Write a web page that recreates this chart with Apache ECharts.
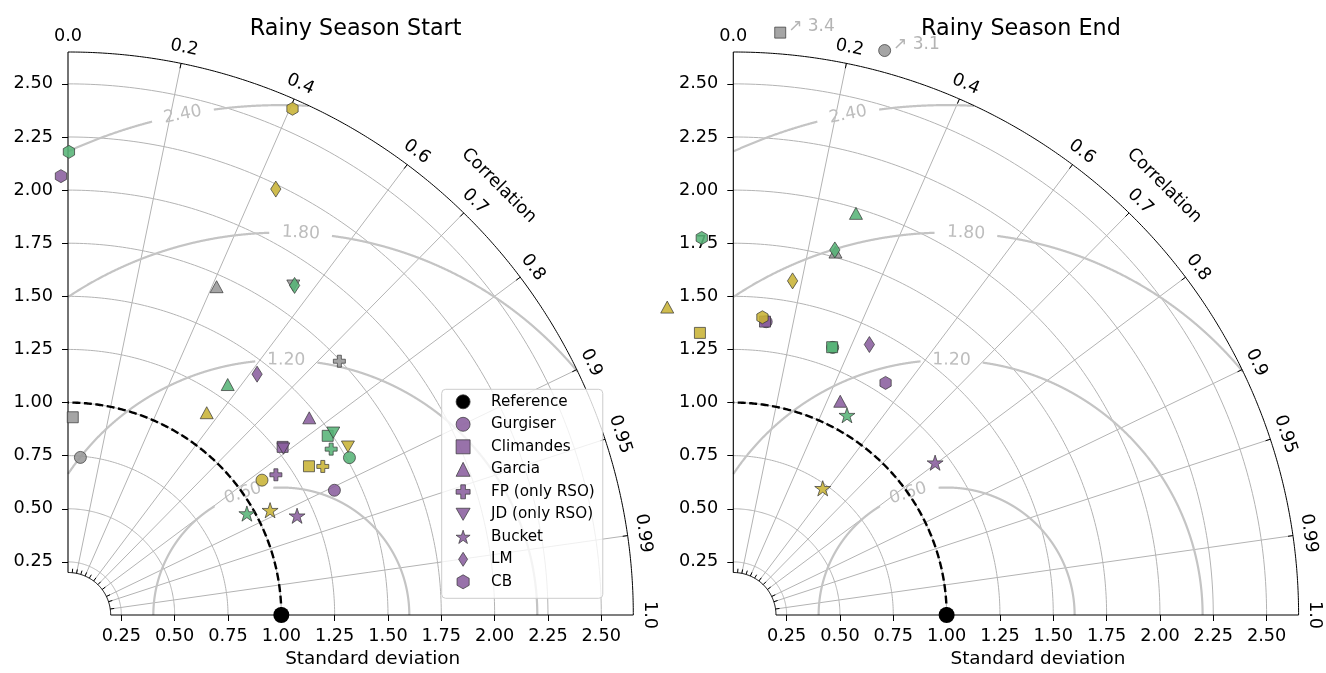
<!DOCTYPE html>
<html><head><meta charset="utf-8">
<script src="https://cdn.jsdelivr.net/npm/echarts@6/dist/echarts.min.js"></script>
<style>html,body{margin:0;padding:0;background:#fff}#chart{width:1326px;height:673px}</style>
</head><body><div id="chart"></div>
<script>
// ---------------- DATA ----------------
const chartTitles = ['Rainy Season Start', 'Rainy Season End'];
const methods = ['Gurgiser', 'Climandes', 'Garcia', 'FP (only RSO)', 'JD (only RSO)', 'Bucket', 'LM', 'CB'];
const stdTicks = [0.25, 0.5, 0.75, 1.0, 1.25, 1.5, 1.75, 2.0, 2.25, 2.5];
const corrTicks = [0, 0.2, 0.4, 0.6, 0.7, 0.8, 0.9, 0.95, 0.99, 1];
const corrTickLabels = ['0.0', '0.2', '0.4', '0.6', '0.7', '0.8', '0.9', '0.95', '0.99', '1.0'];
const corrMinorTicks = [0.1, 0.2, 0.3, 0.4, 0.5, 0.6, 0.7, 0.8, 0.9, 0.95, 0.99];
const rmsLevels = [0.6, 1.2, 1.8, 2.4];
const rmsLabels = ['0.60', '1.20', '1.80', '2.40'];
const refStd = 1.0;
const stdMin = 0.2, stdMax = 2.65;

// each entry: [group, standard deviation, correlation]
const start_Gurgiser  = [['purple', 1.380, 0.905], ['green', 1.513, 0.872], ['yellow', 1.109, 0.820], ['gray', 0.744, 0.078]];
const start_Climandes = [['purple', 1.280, 0.786], ['green', 1.481, 0.822], ['yellow', 1.329, 0.850], ['gray', 0.931, 0.024]];
const start_Garcia    = [['purple', 1.463, 0.773], ['green', 1.318, 0.568], ['yellow', 1.153, 0.564], ['gray', 1.695, 0.411]];
const start_FP        = [['purple', 1.177, 0.828], ['green', 1.460, 0.845], ['yellow', 1.384, 0.863], ['gray', 1.745, 0.729]];
const start_JD        = [['purple', 1.278, 0.790], ['green', 1.511, 0.823], ['yellow', 1.533, 0.856], ['gray', 1.876, 0.563]];
const start_Bucket    = [['purple', 1.171, 0.917], ['green', 0.965, 0.869], ['yellow', 1.068, 0.887]];
const start_LM        = [['purple', 1.439, 0.616], ['green', 1.880, 0.565], ['yellow', 2.229, 0.437]];
const start_CB        = [['purple', 2.066, -0.016], ['green', 2.180, 0.002], ['yellow', 2.605, 0.404]];

const end_Gurgiser  = [['purple', 1.389, 0.111], ['green', 1.343, 0.347], ['gray', 3.1, 0.258]];
const end_Climandes = [['purple', 1.389, 0.107], ['green', 1.343, 0.345], ['yellow', 1.337, -0.117], ['gray', 3.4, 0.080]];
const end_Garcia    = [['purple', 1.124, 0.446], ['green', 1.976, 0.291], ['yellow', 1.482, -0.209], ['gray', 1.774, 0.270]];
const end_FP        = [];
const end_JD        = [];
const end_Bucket    = [['purple', 1.187, 0.797], ['green', 1.081, 0.493], ['yellow', 0.729, 0.575]];
const end_LM        = [['purple', 1.424, 0.448], ['green', 1.783, 0.267], ['yellow', 1.597, 0.174]];
const end_CB        = [['purple', 1.305, 0.547], ['green', 1.781, -0.083], ['yellow', 1.408, 0.097]];

const chartData = [
  [start_Gurgiser, start_Climandes, start_Garcia, start_FP, start_JD, start_Bucket, start_LM, start_CB],
  [end_Gurgiser, end_Climandes, end_Garcia, end_FP, end_JD, end_Bucket, end_LM, end_CB]
];

// ---------------- STYLE ----------------
const FONT = 'DejaVu Sans';
const groupColors = { purple: '#8a5f9e', green: '#58b477', yellow: '#c8b336', gray: '#999999' };
const GRID = '#b3b3b3', RMS = '#c4c4c4', RMS_TXT = '#bdbdbd';
const outRadius = 2.75;       // where out-of-range points are drawn
const rmsLabelAngle = [107.5, 88.9, 87.1, 101.1]; // label placement on each contour (deg, around ref point)

function starPath() {
  let d = '';
  for (let i = 0; i < 10; i++) {
    const r = i % 2 ? 0.382 : 1;
    const a = Math.PI / 2 + i * Math.PI / 5;
    d += (i ? 'L' : 'M') + (r * Math.cos(a)).toFixed(4) + ',' + (-r * Math.sin(a)).toFixed(4);
  }
  return 'path://' + d + 'Z';
}
const markerStyle = {
  'Gurgiser':      { symbol: 'circle', size: 12 },
  'Climandes':     { symbol: 'rect', size: 11 },
  'Garcia':        { symbol: 'triangle', size: [13, 12] },
  'FP (only RSO)': { symbol: 'path://M1,0H2V1H3V2H2V3H1V2H0V1H1Z', size: 12 },
  'JD (only RSO)': { symbol: 'path://M0,0L2,0L1,1.732Z', size: 13 },
  'Bucket':        { symbol: starPath(), size: 16 },
  'LM':            { symbol: 'path://M0.32,0L0.64,0.5L0.32,1L0,0.5Z', size: 16 },
  'CB':            { symbol: 'path://M0,-1L0.866,-0.5L0.866,0.5L0,1L-0.866,0.5L-0.866,-0.5Z', size: 13 }
};

// ---------------- FRAME (drawn through axes' scales) ----------------
function frameRender(params, api) {
  const u = api.size([1, 0])[0];
  const P = (x, y) => api.coord([x, y]);
  const Pp = (r, t) => api.coord([r * Math.cos(t), r * Math.sin(t)]);
  const ch = [];
  const line = (pts, stroke, lw, extra) => ch.push({
    type: 'polyline', silent: true, shape: { points: pts },
    style: Object.assign({ stroke: stroke, lineWidth: lw, fill: 'none' }, extra || {})
  });
  const arc = (r, a0, a1, n) => { const p = []; for (let i = 0; i <= n; i++) p.push(Pp(r, a0 + (a1 - a0) * i / n)); return p; };
  const text = (x, y, s, rot, fill, size) => ch.push({
    type: 'text', silent: true, x: x, y: y, rotation: rot || 0,
    style: { text: s, fill: fill, fontSize: size, fontFamily: FONT, align: 'center', verticalAlign: 'middle' }
  });

  stdTicks.forEach(r => line(arc(r, 0, Math.PI / 2, 150), GRID, 1));
  corrTicks.forEach(c => {
    if (c <= 0 || c >= 1) return;
    const t = Math.acos(c);
    line([Pp(stdMin, t), Pp(stdMax, t)], GRID, 1);
  });
  rmsLevels.forEach((R, k) => {
    const phiL = rmsLabelAngle[k] * Math.PI / 180;
    const half = 31 / (R * u);
    const N = 2400;
    let seg = [];
    for (let i = 0; i <= N; i++) {
      const phi = Math.PI * i / N;
      const x = refStd + R * Math.cos(phi), y = R * Math.sin(phi);
      const r = Math.hypot(x, y);
      const ok = x >= 0 && r <= stdMax && r >= stdMin && Math.abs(phi - phiL) > half;
      if (ok) seg.push(P(x, y));
      else { if (seg.length > 1) line(seg, RMS, 2.2); seg = []; }
    }
    if (seg.length > 1) line(seg, RMS, 2.2);
    const lp = P(refStd + R * Math.cos(phiL), R * Math.sin(phiL));
    text(lp[0], lp[1], rmsLabels[k], phiL - Math.PI / 2, RMS_TXT, 17.2);
  });
  line(arc(refStd, 0, Math.PI / 2, 240), '#000', 2.4, { lineDash: [8, 3.5] });
  line([P(0, stdMin), P(0, stdMax)], '#000', 1.1);
  line([P(stdMin, 0), P(stdMax, 0)], '#000', 1.1);
  line(arc(stdMax, 0, Math.PI / 2, 360), '#000', 1);
  line(arc(stdMin, 0, Math.PI / 2, 80), '#000', 1);
  corrTicks.forEach((c, k) => {
    const t = Math.acos(c), ct = Math.cos(t), st = Math.sin(t);
    const a = Pp(stdMax, t);
    if (c > 0 && c < 1) line([a, [a[0] - 5 * ct, a[1] + 5 * st]], '#000', 1);
    text(a[0] + 16 * ct, a[1] - 16 * st, corrTickLabels[k], t - Math.PI / 2, '#000', 17.7);
  });
  corrMinorTicks.forEach(c => {
    const t = Math.acos(c), ct = Math.cos(t), st = Math.sin(t);
    const a = Pp(stdMin, t);
    line([a, [a[0] + 4 * ct, a[1] - 4 * st]], '#000', 1);
  });
  const q = Pp(stdMax, Math.PI / 4);
  text(q[0] + 44 * Math.SQRT1_2, q[1] - 44 * Math.SQRT1_2, 'Correlation', -Math.PI / 4, '#000', 17.7);
  return { type: 'group', children: ch };
}

// ---------------- OPTION ----------------
const series = [];
[0, 1].forEach(ci => {
  series.push({
    type: 'custom', name: 'frame' + ci, xAxisIndex: ci, yAxisIndex: ci, silent: true, clip: false, z: 1,
    data: [[0, 0]], renderItem: frameRender, tooltip: { show: false }
  });
  series.push({
    type: 'scatter', name: 'Reference', xAxisIndex: ci, yAxisIndex: ci, z: 5, clip: false,
    symbol: 'circle', symbolSize: 16, itemStyle: { color: '#000', opacity: 1 },
    data: [[refStd, 0]]
  });
  methods.forEach((m, mi) => {
    const ms = markerStyle[m];
    series.push({
      type: 'scatter', name: m, xAxisIndex: ci, yAxisIndex: ci, z: 4, clip: false,
      symbol: ms.symbol, symbolSize: ms.size, symbolKeepAspect: true,
      itemStyle: { color: groupColors.purple, borderColor: '#333', borderWidth: 0.8, opacity: 0.88 },
      data: chartData[ci][mi].map(([g, s, c]) => {
        const rd = s > stdMax ? outRadius : s;
        const t = Math.acos(c);
        const item = { value: [rd * Math.cos(t), rd * Math.sin(t)], itemStyle: { color: groupColors[g] } };
        if (s > stdMax) {
          item.label = { show: true, position: 'right', distance: 2, offset: [0, -6],
            formatter: '\u2197 ' + s.toFixed(1), color: '#aaaaaa', fontSize: 17, fontFamily: FONT };
        }
        return item;
      })
    });
  });
});

const axisCommon = {
  type: 'value', min: 0, max: stdMax,
  axisLine: { show: false }, splitLine: { show: false },
  axisTick: { show: true, length: 6, customValues: stdTicks, lineStyle: { color: '#000', width: 1 } },
  axisLabel: { customValues: stdTicks, formatter: v => v.toFixed(2), color: '#000', fontSize: 17.7, fontFamily: FONT }
};
const gridLeft = [68, 733.3];
const option = {
  animation: false,
  textStyle: { fontFamily: FONT },
  title: chartTitles.map((t, i) => ({
    text: t, left: gridLeft[i] + 282.65, top: 13, textAlign: 'center',
    textStyle: { fontSize: 22.3, fontWeight: 'normal', color: '#000', fontFamily: FONT }
  })),
  grid: gridLeft.map(l => ({ left: l, top: 52, width: 565.3, height: 565.3 })),
  xAxis: [0, 1].map(i => Object.assign({}, axisCommon, {
    gridIndex: i, position: 'bottom',
    axisLabel: Object.assign({}, axisCommon.axisLabel, { margin: 12 }),
    name: 'Standard deviation', nameLocation: 'middle', nameGap: 35,
    nameTextStyle: { fontSize: 18.4, color: '#000', fontFamily: FONT, padding: [0, 0, 0, 44] }
  })),
  yAxis: [0, 1].map(i => Object.assign({}, axisCommon, {
    gridIndex: i, position: 'left',
    axisLabel: Object.assign({}, axisCommon.axisLabel, { margin: 15 })
  })),
  legend: {
    orient: 'vertical', left: 441.7, top: 389.3,
    padding: [5, 8, 9, 14], itemGap: 7.5, itemWidth: 14, itemHeight: 14,
    selectedMode: false,
    itemStyle: { borderWidth: 0.8, borderColor: '#333' },
    textStyle: { fontSize: 15.2, color: '#000', fontFamily: FONT, lineHeight: 15, padding: [0, 0, 0, 16] },
    backgroundColor: 'rgba(255,255,255,0.8)', borderColor: '#cccccc', borderWidth: 1, borderRadius: 4,
    data: ['Reference'].concat(methods)
  },
  series: series
};
const chart = echarts.init(document.getElementById('chart'), null, { renderer: 'canvas' });
chart.setOption(option);
</script></body></html>
